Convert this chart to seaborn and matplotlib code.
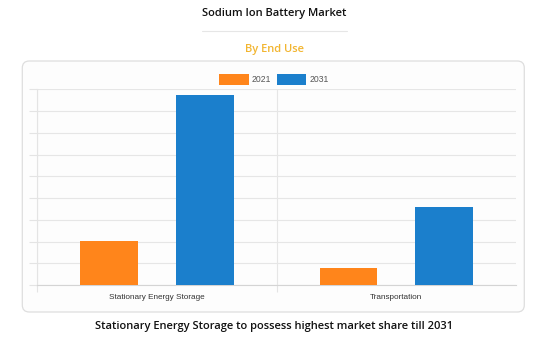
import matplotlib
matplotlib.use("Agg")
import matplotlib.pyplot as plt
import seaborn as sns
import pandas as pd
from matplotlib.patches import FancyBboxPatch, Patch
from matplotlib.lines import Line2D

categories = ["Stationary Energy Storage", "Transportation"]
years = ["2021", "2031"]
values_2021 = [2.04, 0.80]
values_2031 = [8.76, 3.61]
colors = ["#FF851B", "#1B7FCC"]

df = pd.DataFrame({
    "End Use": categories * 2,
    "Year": [years[0]] * 2 + [years[1]] * 2,
    "Value": values_2021 + values_2031,
})

sns.set_theme(style="white")
plt.rcParams["font.family"] = ["Liberation Sans", "DejaVu Sans"]

W, H = 556, 339
fig = plt.figure(figsize=(W / 100, H / 100), dpi=100)
fig.patch.set_facecolor("white")

# card
card = FancyBboxPatch((22.3 / 100, (H - 312) / 100), (524.3 - 22.3) / 100, (312 - 61) / 100,
                      boxstyle="round,pad=0,rounding_size=0.07",
                      transform=fig.dpi_scale_trans, facecolor="#fdfdfd",
                      edgecolor="#dedede", linewidth=0.9, zorder=-5)
fig.patches.append(card)

ax = fig.add_axes([37.3 / W, (H - 285) / H, (516 - 37.3) / W, (285 - 89.3) / H])
ax.set_zorder(2)
ax.patch.set_alpha(0)

sns.barplot(data=df, x="End Use", y="Value", hue="Year", palette=colors, saturation=1,
            width=0.8, gap=0.4, ax=ax, legend=False, edgecolor="none", zorder=3)

ax.set_xlim(-0.5, 1.5)
ax.set_ylim(0, 9)
ax.set_yticks(range(0, 10))
ax.set_yticklabels([])
ax.tick_params(axis="y", length=6, color="#e4e4e4", width=0.8, left=True)
ax.grid(axis="y", color="#e6e6e6", linewidth=0.8, zorder=0)
ax.set_xticks([-0.5, 0.5], minor=True)
ax.grid(axis="x", which="minor", color="#e6e6e6", linewidth=0.8, zorder=0)
ax.tick_params(axis="x", which="minor", length=5, color="#e4e4e4", width=0.8, bottom=True)
ax.tick_params(axis="x", which="major", length=0, pad=6.5, labelsize=5.9, labelcolor="#333333")
ax.set_axisbelow(True)
ax.set_xlabel("")
ax.set_ylabel("")
for s in ["top", "right"]:
    ax.spines[s].set_visible(False)
ax.spines["left"].set_color("#e4e4e4")
ax.spines["left"].set_linewidth(0.8)
ax.spines["bottom"].set_color("#d4d4d4")
ax.spines["bottom"].set_linewidth(0.8)

handles = [Patch(facecolor=c, edgecolor="none", label=y) for c, y in zip(colors, years)]
fig.legend(handles=handles, loc="center", bbox_to_anchor=(274 / W, 1 - 79.3 / H),
           ncol=2, frameon=False, fontsize=6.2, handlelength=3.4, handleheight=1.6,
           handletextpad=0.35, columnspacing=0.7, labelcolor="#555555",
           borderpad=0, borderaxespad=0)

title_font = ["Open Sans", "DejaVu Sans"]
fig.text(274 / W, 1 - 13.5 / H, "Sodium Ion Battery Market", ha="center", va="center",
         fontsize=8.0, fontweight="semibold", family=title_font, color="#111111")
fig.add_artist(Line2D([202 / W, 347 / W], [1 - 30.7 / H] * 2, color="#e6e6e6",
                      linewidth=0.8, transform=fig.transFigure))
fig.text(274.5 / W, 1 - 49.3 / H, "By End Use", ha="center", va="center",
         fontsize=8.0, fontweight="semibold", family=title_font, color="#F2B530")
fig.text(274 / W, 1 - 326.5 / H, "Stationary Energy Storage to possess highest market share till 2031",
         ha="center", va="center", fontsize=8.0, fontweight="semibold", family=title_font,
         color="#111111")

fig.savefig("out.png", dpi=100, facecolor="white")
